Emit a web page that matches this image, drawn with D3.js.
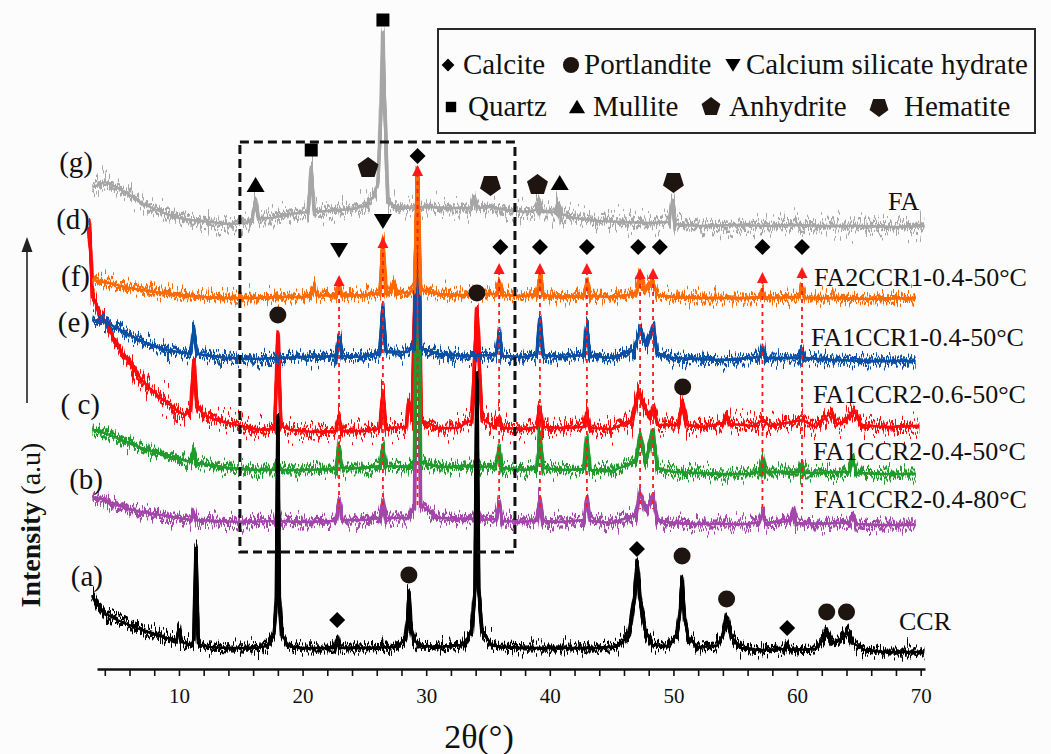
<!DOCTYPE html>
<html>
<head>
<meta charset="utf-8">
<script src="https://cdn.jsdelivr.net/npm/d3@7"></script>
<style>
    body { margin: 0; background: #fcfcfc; }
    svg { display: block; }
    text { font-family: "Liberation Serif", "DejaVu Serif", "Times New Roman", serif; fill: #111; }
</style>
</head>
<body>
<svg id="chart" width="1051" height="754"></svg>
<script>
var fa_pts = [[3.0,482],[3.5,484],[4.0,487],[4.6,484],[5.2,480],[6.0,474],[7.0,466],[8.0,460],[9.0,455],[10.0,451],[11.0,449],[12.5,447],[14.0,445],[15.5,446],[15.95,451],[16.2,469],[16.45,451],[17.5,451],[19.0,455],[20.45,457],[20.7,501],[20.95,457],[22.0,458],[24.0,460],[25.0,463],[25.7,472],[26.1,486],[26.35,560],[26.5,636],[26.65,560],[26.9,466],[28.0,461],[30.0,462],[32.0,461],[33.65,461],[33.9,472],[34.15,461],[35.2,462],[36.5,459],[38.0,457],[38.85,459],[39.1,469],[39.35,457],[40.45,457],[40.7,466],[40.95,455],[42.0,451],[44.0,448],[46.0,447],[48.0,446],[49.65,447],[49.9,469],[50.15,445],[52.0,443],[55.0,444],[58.0,443],[60.0,444],[62.0,443],[65.0,443],[68.0,442],[70.3,443]];

var fa2ccr1_pts = [[3.0,389],[4.0,387],[5.0,384],[6.0,381],[8.0,377],[10.0,374],[12.0,372],[14.0,371],[16.0,371],[18.0,372],[20.0,372],[20.65,374],[20.9,381],[21.15,374],[22.7,373],[22.95,386],[23.2,373],[25.0,374],[26.25,376],[26.5,429],[26.75,376],[27.1,378],[27.35,387],[27.6,377],[28.6,376],[29.05,381],[29.3,497],[29.55,379],[31.0,375],[33.0,374],[34.1,375],[35.65,375],[35.9,385],[36.15,374],[38.0,373],[38.95,375],[39.2,392],[39.45,374],[41.0,372],[42.75,373],[43.0,387],[43.25,373],[45.0,372],[46.95,375],[47.3,391],[47.75,378],[48.35,387],[48.7,374],[50.0,372],[52.0,371],[54.0,371],[56.0,371],[56.95,372],[57.2,379],[57.45,371],[60.15,372],[60.4,381],[60.65,371],[63.0,371],[66.0,370],[69.6,371]];

var fa1ccr1_pts = [[3.0,349],[4.0,347],[5.0,341],[6.0,334],[7.0,328],[8.0,323],[9.0,319],[10.0,317],[10.95,315],[11.2,341],[11.45,315],[12.0,314],[14.0,311],[16.0,310],[18.0,311],[20.0,312],[22.7,313],[22.95,331],[23.2,313],[25.0,312],[26.25,316],[26.5,361],[26.75,317],[28.5,317],[29.05,324],[29.3,497],[29.55,321],[31.0,315],[33.0,313],[35.65,314],[35.9,336],[36.15,313],[38.0,312],[38.95,315],[39.2,351],[39.45,314],[41.0,312],[42.75,314],[43.0,342],[43.25,313],[45.0,311],[46.85,319],[47.3,341],[47.8,324],[48.35,342],[48.7,314],[50.0,311],[52.0,310],[54.0,309],[56.0,311],[56.95,312],[57.2,322],[57.45,311],[60.15,311],[60.4,319],[60.65,311],[63.0,309],[66.0,308],[69.6,308]];

var fa1ccr2_06_pts = [[2.7,441],[2.85,419],[3.0,374],[3.3,364],[3.6,354],[4.0,347],[4.5,336],[5.0,324],[5.5,314],[6.0,307],[6.5,297],[7.0,289],[7.5,282],[8.0,277],[8.5,271],[9.0,267],[9.5,262],[10.0,257],[10.5,254],[10.95,259],[11.2,307],[11.45,264],[12.0,254],[13.0,249],[14.0,246],[15.0,243],[16.0,240],[17.0,239],[17.75,241],[18.0,337],[18.25,243],[19.0,239],[20.0,238],[21.0,237],[22.7,238],[22.95,252],[23.2,238],[25.0,238],[26.25,241],[26.5,276],[26.75,241],[28.35,242],[28.6,269],[28.85,249],[29.3,494],[29.6,249],[31.0,241],[32.5,241],[33.7,249],[34.1,359],[34.5,251],[35.5,242],[35.9,252],[36.15,241],[38.0,240],[38.95,242],[39.2,262],[39.45,242],[41.0,241],[42.75,242],[43.0,256],[43.25,241],[45.0,240],[46.6,249],[47.2,277],[47.8,259],[48.1,251],[48.35,261],[48.7,244],[50.4,244],[50.75,267],[51.1,244],[52.5,242],[54.0,246],[54.3,254],[54.6,245],[56.5,243],[57.2,249],[57.8,243],[60.4,249],[61.5,242],[62.7,256],[63.2,245],[63.8,247],[64.6,259],[65.2,244],[67.0,242],[69.9,243]];

var fa1ccr2_04_50_pts = [[3.0,239],[4.0,236],[5.0,231],[6.0,226],[7.0,221],[8.0,217],[9.0,213],[10.0,210],[10.95,207],[11.2,217],[11.45,206],[12.5,204],[14.0,201],[16.0,199],[17.75,199],[18.0,204],[18.25,199],[20.0,199],[22.7,200],[22.95,222],[23.2,201],[25.0,201],[26.25,203],[26.5,222],[26.75,203],[28.5,202],[29.05,209],[29.3,491],[29.55,207],[31.0,202],[33.8,203],[34.1,206],[34.4,202],[35.65,203],[35.9,221],[36.15,201],[38.0,199],[38.95,201],[39.2,236],[39.45,201],[41.0,199],[42.75,200],[43.0,232],[43.25,199],[45.0,198],[46.95,207],[47.3,234],[47.75,207],[48.35,237],[48.7,201],[50.0,197],[52.0,196],[54.0,195],[56.0,195],[56.95,197],[57.2,211],[57.45,197],[60.15,197],[60.4,206],[60.65,196],[64.2,197],[64.5,211],[64.8,196],[67.0,195],[69.6,195]];

var fa1ccr2_04_80_pts = [[3.0,172],[4.0,169],[5.0,164],[6.0,160],[7.0,157],[8.0,155],[9.0,153],[10.0,151],[10.95,149],[11.2,157],[11.45,149],[13.0,148],[15.0,147],[17.75,148],[18.0,157],[18.25,148],[20.0,147],[22.7,148],[22.95,169],[23.2,149],[25.0,149],[26.25,151],[26.5,167],[26.75,151],[28.5,151],[29.05,164],[29.3,489],[29.55,164],[31.0,151],[33.8,150],[34.1,159],[34.4,149],[35.65,150],[35.9,167],[36.15,148],[38.0,147],[38.95,149],[39.2,169],[39.45,148],[41.0,147],[42.75,149],[43.0,172],[43.25,148],[45.0,146],[46.95,154],[47.3,177],[47.75,159],[48.35,172],[48.7,149],[50.0,146],[52.0,145],[54.0,145],[56.0,145],[56.95,147],[57.2,156],[57.45,146],[59.45,148],[59.7,159],[59.95,146],[62.0,145],[64.2,147],[64.5,154],[64.8,145],[67.0,144],[69.6,144]];

var ccr_pts = [[3.0,74],[3.4,64],[4.0,56],[5.0,49],[6.0,44],[7.0,39],[8.0,35],[9.0,31],[9.8,29],[10.0,39],[10.2,27],[11.0,24],[11.2,30],[11.37,121],[11.55,30],[11.7,24],[12.5,22],[14.0,21],[16.0,21],[17.2,23],[17.7,36],[17.88,70],[18.0,251],[18.12,70],[18.3,36],[18.8,23],[20.0,21],[22.6,21],[22.8,31],[23.0,21],[25.0,21],[27.5,22],[28.3,29],[28.5,50],[28.6,77],[28.75,45],[29.0,29],[29.5,23],[31.0,22],[33.0,24],[33.7,38],[33.95,80],[34.1,294],[34.25,80],[34.5,38],[35.3,24],[36.0,22],[38.0,21],[40.0,21],[42.0,21],[44.0,21],[45.5,23],[46.4,34],[46.85,70],[47.05,107],[47.3,70],[47.7,39],[48.3,24],[49.5,23],[50.3,34],[50.55,60],[50.7,92],[50.9,50],[51.2,31],[52.0,22],[53.5,23],[54.0,34],[54.3,52],[54.7,32],[55.5,21],[57.0,19],[59.0,20],[59.2,26],[59.4,19],[61.5,20],[62.1,29],[62.4,37],[62.8,26],[63.4,28],[64.0,37],[64.5,26],[65.5,19],[67.0,17],[70.3,17]];

var series_names   = ['FA', 'FA2CCR1-0.4-50°C', 'FA1CCR1-0.4-50°C', 'FA1CCR2-0.6-50°C', 'FA1CCR2-0.4-50°C', 'FA1CCR2-0.4-80°C', 'CCR'];
var series_letters = ['(g)', '(d)', '(f)', '(e)', '( c)', '(b)', '(a)'];
var series_data    = [fa_pts, fa2ccr1_pts, fa1ccr1_pts, fa1ccr2_06_pts, fa1ccr2_04_50_pts, fa1ccr2_04_80_pts, ccr_pts];

var x_ticks = d3.range(4, 71, 2);

/* Phasen-Marker: [Phase, 2theta, Intensität] */
var phase_names = ['Calcite', 'Portlandite', 'Calcium silicate hydrate', 'Quartz', 'Mullite', 'Anhydrite', 'Hematite'];
var phase_marks = [
    ['Mullite',16.2,484],['Quartz',20.7,519],['Anhydrite',25.3,501],['Quartz',26.5,649],['Calcite',29.3,513],
    ['Hematite',35.2,484],['Anhydrite',39.0,484],['Mullite',40.8,486],['Hematite',50.0,487],
    ['Calcium silicate hydrate',22.95,419],['Calcium silicate hydrate',26.5,448],
    ['Calcite',36.0,422],['Calcite',39.2,422],['Calcite',43.0,422],['Calcite',47.15,422],['Calcite',48.9,422],['Calcite',57.2,422],['Calcite',60.4,422],
    ['Portlandite',18.0,354],['Portlandite',34.1,376],['Portlandite',50.75,282],
    ['Calcite',22.8,49],['Portlandite',28.6,94],['Calcite',47.05,120],['Portlandite',50.7,113],['Portlandite',54.3,70],['Calcite',59.2,41],['Portlandite',62.4,57],['Portlandite',64.0,57]
];

/* rote Pfeile: [2theta, Spitze] */
var ref_arrows = [[22.95,394],[26.5,432],[29.3,504],[35.9,406],[39.2,406],[43.0,406],[47.3,401],[48.35,401],[57.2,397],[60.4,402]];

/* Stil */
var series_colors = ['#a6a6a6', '#ff6a00', '#0a4fa3', '#ff0a0a', '#1f9a2b', '#a247a9', '#000000'];
var noise_strength = ['noise_c', 'noise_a', 'noise_a', 'noise_c', 'noise_a', 'noise_a', 'noise_a'];

var svg = d3.select('#chart');
svg.append('rect').attr('width', 1051).attr('height', 754).attr('fill', '#fcfcfc');

var x = d3.scaleLinear().domain([3.37, 70.35]).range([97, 925]);
var y = d3.scaleLinear().domain([0, 650]).range([669, 19]);

var line = d3.line()
    .x(function(d) { return x(d[0]); })
    .y(function(d) { return y(d[1]); });

/* Rausch-Textur: nur senkrechte Verschiebung der Striche */
var defs = svg.append('defs');
function noise_filter(id, freq, seed, scale) {
    var f = defs.append('filter').attr('id', id)
        .attr('filterUnits', 'userSpaceOnUse')
        .attr('x', 0).attr('y', 0).attr('width', 1051).attr('height', 754)
        .attr('color-interpolation-filters', 'sRGB');
    f.append('feTurbulence')
        .attr('type', 'fractalNoise')
        .attr('baseFrequency', freq)
        .attr('numOctaves', 2)
        .attr('seed', seed)
        .attr('result', 'turb');
    f.append('feColorMatrix')
        .attr('in', 'turb')
        .attr('type', 'matrix')
        .attr('values', '0 0 0 0 0.5  0 1 0 0 0  0 0 0 0 0  0 0 0 0 1')
        .attr('result', 'map');
    f.append('feDisplacementMap')
        .attr('in', 'SourceGraphic')
        .attr('in2', 'map')
        .attr('scale', scale)
        .attr('xChannelSelector', 'R')
        .attr('yChannelSelector', 'G');
}
noise_filter('noise_a', '0.55 0.02', 3, 36);
noise_filter('noise_b', '0.7 0.03', 11, 20);
noise_filter('noise_c', '0.5 0.02', 7, 52);
noise_filter('noise_d', '0.85 0.02', 19, 28);

/* Symbolpfade */
function sym(type, k) {
    k = k || 1;
    var p = d3.path(), i, a, r;
    switch(type) {
        case 'Calcite':
            r = 8 * k;
            p.moveTo(0, -r); p.lineTo(r, 0); p.lineTo(0, r); p.lineTo(-r, 0); p.closePath();
            break;
        case 'Portlandite':
            r = 8.5 * k;
            p.moveTo(r, 0); p.arc(0, 0, r, 0, 2 * Math.PI);
            break;
        case 'Calcium silicate hydrate':
            p.moveTo(-9 * k, -7 * k); p.lineTo(9 * k, -7 * k); p.lineTo(0, 8 * k); p.closePath();
            break;
        case 'Quartz':
            r = 6.5 * k;
            p.rect(-r, -r, 2 * r, 2 * r);
            break;
        case 'Mullite':
            p.moveTo(0, -8 * k); p.lineTo(9 * k, 7 * k); p.lineTo(-9 * k, 7 * k); p.closePath();
            break;
        case 'Anhydrite':
        case 'Hematite':
            r = 11 * k;
            var off = type === 'Anhydrite' ? -Math.PI / 2 : Math.PI / 2;
            for(i = 0; i < 5; i++) {
                a = off + i * 2 * Math.PI / 5;
                if(i === 0) p.moveTo(r * Math.cos(a), r * Math.sin(a));
                else p.lineTo(r * Math.cos(a), r * Math.sin(a));
            }
            p.closePath();
            break;
    }
    return p.toString();
}

/* Achse */
var x_axis = d3.axisBottom(x)
    .tickValues(x_ticks)
    .tickSizeInner(7)
    .tickSizeOuter(0)
    .tickPadding(12)
    .tickFormat(function(d) { return d % 10 === 0 ? d : ''; });

var ax = svg.append('g').attr('transform', 'translate(0,669)').call(x_axis);
ax.attr('font-family', null);
ax.select('.domain').attr('stroke', '#111').attr('stroke-width', 2.5);
ax.selectAll('.tick line').attr('stroke', '#111').attr('stroke-width', 1.6);
ax.selectAll('.tick text').attr('font-size', 21).attr('fill', '#111');

svg.append('text')
    .attr('x', 479).attr('y', 748)
    .attr('text-anchor', 'middle')
    .attr('font-size', 34)
    .text('2θ(°)');

/* Kurven mit Rauschtextur: Kernlinie + drei verrauschte Lagen */
var traces = svg.append('g');
var draw_order = [0, 3, 5, 4, 2, 1, 6];
draw_order.forEach(function(i) {
    var d = line(series_data[i]);
    [[noise_strength[i], 3.6], ['noise_d', 3], ['noise_b', 3]].forEach(function(layer) {
        traces.append('path')
            .attr('d', d)
            .attr('fill', 'none')
            .attr('stroke', series_colors[i])
            .attr('stroke-width', layer[1])
            .attr('stroke-linejoin', 'round')
            .attr('filter', 'url(#' + layer[0] + ')');
    });
    traces.append('path')
        .attr('d', d)
        .attr('fill', 'none')
        .attr('stroke', series_colors[i])
        .attr('stroke-width', 2.4)
        .attr('stroke-linejoin', 'round');
});

/* rote gestrichelte Referenzlinien */
var ref_g = svg.append('g');
ref_g.selectAll('line')
    .data(ref_arrows).enter()
    .append('line')
    .attr('x1', function(d) { return x(d[0]); })
    .attr('x2', function(d) { return x(d[0]); })
    .attr('y1', function(d) { return y(d[1]) + 8; })
    .attr('y2', y(160))
    .attr('stroke', '#ff1a1a')
    .attr('stroke-width', 1.8)
    .attr('stroke-dasharray', '4,4');
ref_g.selectAll('path')
    .data(ref_arrows).enter()
    .append('path')
    .attr('transform', function(d) { return 'translate(' + x(d[0]) + ',' + y(d[1]) + ')'; })
    .attr('d', 'M0,0L5.5,11L-5.5,11Z')
    .attr('fill', '#ff1a1a');

/* gestricheltes Rechteck */
svg.append('rect')
    .attr('x', x(14.93)).attr('y', y(527))
    .attr('width', x(37.18) - x(14.93))
    .attr('height', y(117) - y(527))
    .attr('fill', 'none')
    .attr('stroke', '#111')
    .attr('stroke-width', 3)
    .attr('stroke-dasharray', '9,5');

/* Phasen-Marker */
svg.append('g').selectAll('path')
    .data(phase_marks).enter()
    .append('path')
    .attr('transform', function(d) { return 'translate(' + x(d[1]) + ',' + y(d[2]) + ')'; })
    .attr('d', function(d) { return sym(d[0]); })
    .attr('fill', function(d) { return (d[0] === 'Anhydrite' || d[0] === 'Hematite' || d[0] === 'Portlandite') ? '#1e1410' : '#000'; });

/* Reihenbeschriftungen */
var name_pos = [[888,210],[814,286],[811,346],[813,403],[813,460],[814,508],[899,630]];
svg.append('g').selectAll('text')
    .data(series_names).enter()
    .append('text')
    .attr('x', function(d, i) { return name_pos[i][0]; })
    .attr('y', function(d, i) { return name_pos[i][1]; })
    .attr('font-size', 26)
    .text(function(d) { return d; });

var letter_pos = [[93,172],[90,229],[90,286],[90,332],[100,414],[103,489],[103,586]];
svg.append('g').selectAll('text')
    .data(series_letters).enter()
    .append('text')
    .attr('x', function(d, i) { return letter_pos[i][0]; })
    .attr('y', function(d, i) { return letter_pos[i][1]; })
    .attr('text-anchor', 'end')
    .attr('font-size', 29)
    .attr('xml:space', 'preserve')
    .text(function(d) { return d; });

/* Y-Achsen-Titel mit Pfeil */
svg.append('line')
    .attr('x1', 27).attr('x2', 27).attr('y1', 403).attr('y2', 248)
    .attr('stroke', '#222').attr('stroke-width', 1.6);
svg.append('path').attr('d', 'M27,237L21.5,252L32.5,252Z').attr('fill', '#222');

var ytitle = svg.append('text')
    .attr('transform', 'translate(40,525) rotate(-90)')
    .attr('text-anchor', 'middle')
    .attr('font-size', 28);
ytitle.append('tspan').attr('font-weight', 'bold').text('Intensity');
ytitle.append('tspan').text(' (a.u)');

/* Legende */
var legend = svg.append('g');
legend.append('rect')
    .attr('x', 438).attr('y', 29).attr('width', 597).attr('height', 104)
    .attr('fill', '#fcfcfc').attr('stroke', '#2a2a2a').attr('stroke-width', 2);

var legend_pos = [[448,65,463],[571,65,584],[733,65,746],[451,107,468],[577,107,593],[711,107,729],[879,107,904]];
var legend_scale = [0.8, 0.95, 0.85, 0.8, 0.9, 0.9, 0.9];
phase_names.forEach(function(name, i) {
    var lp = legend_pos[i];
    legend.append('path')
        .attr('transform', 'translate(' + lp[0] + ',' + lp[1] + ')')
        .attr('d', sym(name, legend_scale[i]))
        .attr('fill', (name === 'Anhydrite' || name === 'Hematite' || name === 'Portlandite') ? '#1e1410' : '#000');
    legend.append('text')
        .attr('x', lp[2]).attr('y', lp[1] + 9)
        .attr('font-size', 29)
        .text(name);
});
</script>
</body>
</html>
